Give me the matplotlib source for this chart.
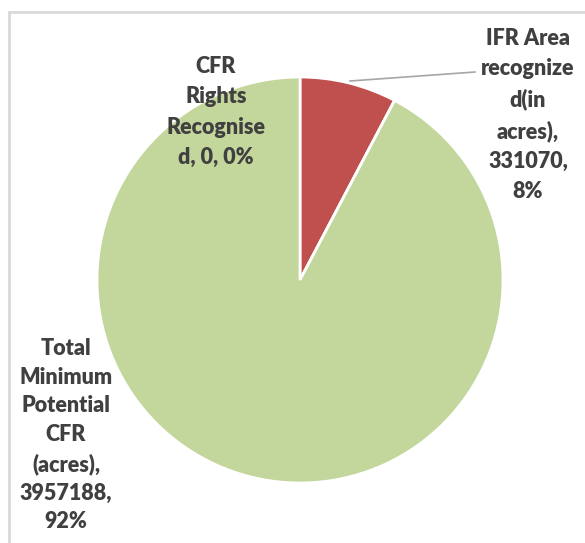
import matplotlib
matplotlib.use("Agg")
import matplotlib.pyplot as plt
from matplotlib.patches import Rectangle

# ---- data ----
categories = ["IFR Area\nrecognize\nd(in\nacres)",
              "CFR\nRights\nRecognise\nd",
              "Total\nMinimum\nPotential\nCFR\n(acres)"]
values = [331070, 0, 3957188]
colors = ["#C0504D", "#4F81BD", "#C3D69B"]

W, H = 585, 543
fig = plt.figure(figsize=(W / 100, H / 100), dpi=100)
ax = fig.add_axes([0, 0, 1, 1])
ax.set_xlim(0, W)
ax.set_ylim(0, H)
ax.set_aspect("equal")
ax.axis("off")

# chart border (extends beyond right/bottom)
ax.add_patch(Rectangle((9, -10), W + 20, H - 12 + 10, fill=False,
                       edgecolor="#D9D9D9", linewidth=2))

cx, cy, r = 300, H - 280, 203
ax.pie(values, colors=colors, startangle=90, counterclock=False,
       center=(cx, cy), radius=r,
       wedgeprops=dict(edgecolor="white", linewidth=2))
ax.set_xlim(0, W)
ax.set_ylim(0, H)

total = sum(values)
labels = [f"{c}, {v}, {round(100 * v / total)}%" for c, v in zip(categories, values)]
labels[0] = labels[0].replace(", 331070, 8%", ",\n331070,\n8%")
labels[2] = labels[2].replace(", 3957188, 92%", ",\n3957188,\n92%")

pos = [(528, H - 115), (216, H - 112), (66, H - 435)]
spacings = [1.54, 1.54, 1.45]
font = dict(family=["Lato", "DejaVu Sans"], weight="heavy", size=15.5,
            color="#404040", ha="center", va="center")
for lab, (x, y), ls in zip(labels, pos, spacings):
    ax.text(x, y, lab, linespacing=ls, **font)

# leader line for IFR label
ax.plot([350, 475], [H - 81, H - 72], color="#A6A6A6", linewidth=1.2)

fig.savefig("out.png", dpi=100)
